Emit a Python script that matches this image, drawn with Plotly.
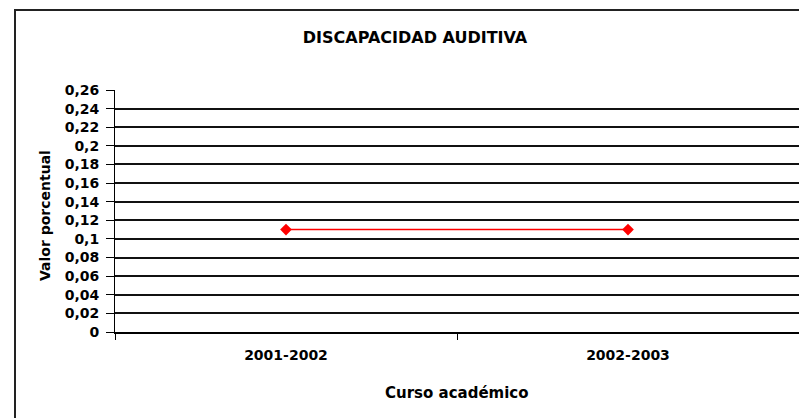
import plotly.graph_objects as go

cursos = ['2001-2002', '2002-2003']
valores = [0.11, 0.11]

y_ticks = [0, 0.02, 0.04, 0.06, 0.08, 0.1, 0.12, 0.14, 0.16, 0.18, 0.2, 0.22, 0.24, 0.26]
y_labels = ['0', '0,02', '0,04', '0,06', '0,08', '0,1', '0,12', '0,14', '0,16', '0,18',
            '0,2', '0,22', '0,24', '0,26']

fuente = 'DejaVu Sans, Arial, sans-serif'
W, H = 799, 418

fig = go.Figure()
fig.add_trace(go.Scatter(
    x=cursos, y=valores,
    mode='lines+markers',
    line=dict(color='#FF0000', width=1.5),
    marker=dict(symbol='diamond', size=9, color='#FF0000'),
    showlegend=False
))

fig.update_layout(
    width=W, height=H,
    margin=dict(l=115, r=0, t=90, b=86),
    paper_bgcolor='white', plot_bgcolor='white',
    font=dict(family=fuente, size=14, color='black'),
    title=dict(text='<b>DISCAPACIDAD AUDITIVA</b>', x=415 / W, xanchor='center',
               y=1 - 37 / H, yanchor='middle', font=dict(size=16)),
    xaxis=dict(
        type='category', range=[-0.5, 1.5],
        tickson='boundaries', ticks='outside', ticklen=6, tickcolor='black',
        tickfont=dict(size=14), tickprefix='<b>', ticksuffix='</b>',
        ticklabelstandoff=9,
        showgrid=False, showline=True, linecolor='black', linewidth=2,
    ),
    yaxis=dict(
        range=[0, 0.26], tickvals=y_ticks, ticktext=['<b>%s</b>' % t for t in y_labels],
        ticks='outside', ticklen=8, tickcolor='black', tickfont=dict(size=14),
        ticklabelstandoff=4,
        showgrid=True, gridcolor='#111111', gridwidth=1.5,
        showline=True, linecolor='black', linewidth=1, zeroline=False,
    ),
    annotations=[
        dict(text='<b>Valor porcentual</b>', xref='paper', yref='paper',
             x=(45 - 115) / 684, y=(332 - 216) / 242, textangle=-90,
             showarrow=False, xanchor='center', yanchor='middle', font=dict(size=14)),
        dict(text='<b>Curso académico</b>', xref='paper', yref='paper',
             x=0.5, y=(332 - 393) / 242,
             showarrow=False, xanchor='center', yanchor='middle', font=dict(size=15)),
    ],
)

# marco exterior del gráfico
fig.add_shape(type='rect', xref='paper', yref='paper',
              x0=(15 - 115) / 684, x1=1.05, y0=-0.6, y1=1 + 80 / 242,
              line=dict(color='#222222', width=2), layer='below')

# sin margen de página, la figura ocupa toda la ventana
fig.write_html('out.html', config={'displayModeBar': False},
               post_script="document.body.style.margin='0';document.body.style.overflow='hidden';")
